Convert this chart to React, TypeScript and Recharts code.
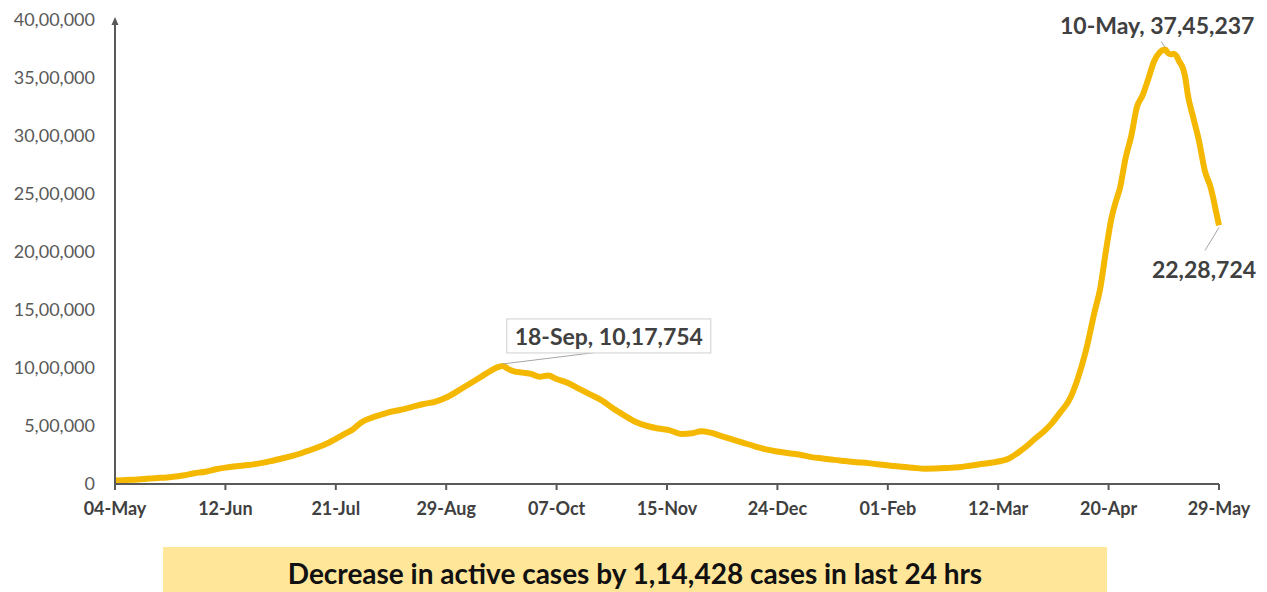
import React from "react";
import { LineChart, Line, XAxis, YAxis, ReferenceDot } from "recharts";

// days counted from 04-May-2020
const days = [
  0, 4, 8, 12, 16, 20, 24, 28, 32, 36, 39, 43, 47, 51, 55, 59, 63, 67, 71, 75, 78, 81, 84, 87, 90, 93, 97,
  101, 105, 109, 113, 117, 121, 125, 129, 133, 135, 137, 139, 141, 144, 147, 150, 153, 156, 160, 164, 168,
  172, 176, 180, 184, 188, 192, 196, 200, 204, 207, 210, 214, 218, 222, 226, 230, 234, 238, 242, 246, 250,
  254, 258, 262, 266, 270, 274, 278, 282, 286, 290, 294, 298, 302, 306, 310, 313, 316, 319, 322, 325, 328,
  331, 334, 337, 340, 343, 346, 348, 350, 352, 354, 355, 357, 359, 361, 363, 365, 367, 369, 371, 372, 373,
  374, 375, 376, 377, 378, 379, 381, 383, 385, 387, 388, 389, 390,
];

const activeCases = [
  29453, 35000, 39000, 47000, 53000, 61000, 73000, 93000, 106000, 129000, 141000, 153000, 163000, 178000,
  197000, 220000, 245000, 276000, 310000, 350000, 390000, 430000, 470000, 530000, 565000, 590000, 620000,
  640000, 665000, 690000, 708000, 745000, 800000, 860000, 920000, 980000, 1005000, 1017754, 990000, 970000,
  960000, 950000, 925000, 935000, 905000, 870000, 820000, 770000, 720000, 650000, 590000, 535000, 500000,
  478000, 462000, 432000, 438000, 455000, 445000, 415000, 385000, 355000, 325000, 298000, 280000, 265000,
  252000, 232000, 220000, 208000, 198000, 188000, 180000, 168000, 158000, 148000, 140000, 132000, 133000,
  138000, 145000, 158000, 172000, 185000, 198000, 222000, 270000, 325000, 390000, 450000, 525000, 620000,
  720000, 900000, 1150000, 1480000, 1680000, 2000000, 2290000, 2470000, 2550000, 2810000, 3000000, 3250000,
  3350000, 3490000, 3640000, 3720000, 3745237, 3715000, 3704000, 3710000, 3690000, 3640000, 3600000,
  3516000, 3353000, 3150000, 2950000, 2700000, 2560000, 2460000, 2343152, 2228724,
];

const xTicks = [0, 39, 78, 117, 156, 195, 234, 273, 312, 351, 390];
const xTickLabels = [
  "04-May", "12-Jun", "21-Jul", "29-Aug", "07-Oct", "15-Nov", "24-Dec", "01-Feb", "12-Mar", "20-Apr", "29-May",
];
const yTicks = [0, 500000, 1000000, 1500000, 2000000, 2500000, 3000000, 3500000, 4000000];

const annotations = [
  { day: 137, value: 1017754, text: "18-Sep, 10,17,754" },
  { day: 371, value: 3745237, text: "10-May, 37,45,237" },
  { day: 390, value: 2228724, text: "22,28,724" },
];

const bannerText = "Decrease in active cases by 1,14,428 cases in last 24 hrs";

const data = days.map((d, i) => ({ day: d, active: activeCases[i] }));

function indian(n: number) {
  const s = String(Math.round(n));
  if (s.length <= 3) return s;
  const last3 = s.slice(-3);
  let rest = s.slice(0, -3);
  const parts: string[] = [];
  while (rest.length > 2) {
    parts.unshift(rest.slice(-2));
    rest = rest.slice(0, -2);
  }
  if (rest) parts.unshift(rest);
  return parts.join(",") + "," + last3;
}

const LINE = "#F4B800";
const AXIS = "#595959";
const LABEL = "#404040";

// label offsets relative to the data point
const labelLayout: Record<number, { dx: number; dy: number; lx: number; ly: number; box?: boolean }> = {
  137: { dx: 106, dy: -30, lx: 97, ly: -14, box: true },
  371: { dx: -8, dy: -25, lx: -4, ly: -8 },
  390: { dx: -15, dy: 44, lx: -14, ly: 25 },
};

function Annotation(props: any) {
  const { cx, cy, day, text } = props;
  const l = labelLayout[day];
  return (
    <g>
      <line x1={cx} y1={cy + (l.ly > 0 ? 2 : -2)} x2={cx + l.lx} y2={cy + l.ly} stroke="#A6A6A6" strokeWidth={1} />
      {l.box && (
        <rect x={cx + l.dx - 102} y={cy + l.dy - 17} width={204} height={34} fill="#fff" stroke="#D0D0D0" />
      )}
      <text
        x={cx + l.dx}
        y={cy + l.dy}
        textAnchor="middle"
        dominantBaseline="central"
        fill={LABEL}
        fontSize={23}
        fontWeight={700}
        fontFamily="Lato"
      >
        {text}
      </text>
    </g>
  );
}

function Arrow(props: any) {
  const { cx, cy } = props;
  return <polygon points={`${cx},${cy - 3} ${cx - 3.5},${cy + 5} ${cx + 3.5},${cy + 5}`} fill={AXIS} />;
}

export default function App() {
  return (
    <div
      style={{
        position: "absolute",
        left: 0,
        top: 0,
        width: 1267,
        height: 592,
        background: "#fff",
        fontFamily: "Lato",
        overflow: "hidden",
      }}
    >
      <LineChart width={1267} height={545} data={data} margin={{ top: 20, right: 48, left: 0, bottom: 31 }}>
        <XAxis
          dataKey="day"
          type="number"
          domain={[0, 390]}
          ticks={xTicks}
          tickFormatter={(v: number) => xTickLabels[xTicks.indexOf(v)] ?? ""}
          interval={0}
          height={30}
          axisLine={{ stroke: AXIS, strokeWidth: 2 }}
          tickLine={{ stroke: AXIS, strokeWidth: 2 }}
          tickSize={6}
          tickMargin={12}
          tick={{ fill: LABEL, fontSize: 18, fontWeight: 700, fontFamily: "Lato" }}
        />
        <YAxis
          type="number"
          domain={[0, 4000000]}
          ticks={yTicks}
          width={115}
          tickFormatter={(v: number) => indian(v)}
          axisLine={{ stroke: AXIS, strokeWidth: 2 }}
          tickLine={false}
          tickSize={0}
          tickMargin={20}
          tick={{ fill: AXIS, fontSize: 18, fontFamily: "Lato" }}
        />
        <Line
          type="monotone"
          dataKey="active"
          stroke={LINE}
          strokeWidth={6}
          dot={false}
          isAnimationActive={false}
        />
        <ReferenceDot x={0} y={4000000} r={4} ifOverflow="visible" shape={(p: any) => <Arrow {...p} />} />
        {annotations.map((a) => (
          <ReferenceDot
            key={a.day}
            x={a.day}
            y={a.value}
            r={1}
            ifOverflow="visible"
            shape={(p: any) => <Annotation {...p} day={a.day} text={a.text} />}
          />
        ))}
      </LineChart>
      <div
        style={{
          position: "absolute",
          left: 163,
          top: 547,
          width: 944,
          height: 45,
          background: "#FFE699",
          display: "flex",
          alignItems: "center",
          justifyContent: "center",
          fontFamily: "Lato",
          fontWeight: 700,
          fontSize: 28,
          color: "#111",
          paddingTop: 6,
          boxSizing: "border-box",
        }}
      >
        {bannerText}
      </div>
    </div>
  );
}
